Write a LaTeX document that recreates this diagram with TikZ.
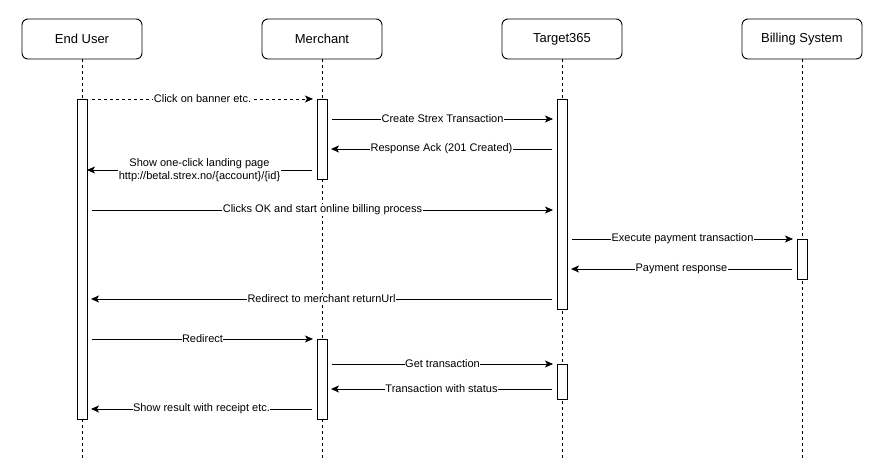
\documentclass[tikz,border=0pt]{standalone}
\usepackage{fontspec}
\setmainfont{Liberation Sans}
\usetikzlibrary{arrows.meta}
\begin{document}
\begin{tikzpicture}[x=1pt,y=-1pt,
  actor/.style={draw, rounded corners=6pt, minimum width=120pt, minimum height=40pt, line width=0.9pt, font=\fontsize{13}{15}\selectfont, inner sep=0pt},
  life/.style={dash pattern=on 3pt off 3pt, line width=0.8pt},
  act/.style={draw, fill=white, minimum width=10pt, inner sep=0pt, line width=0.9pt},
  msg/.style={-{Stealth[length=8pt,width=7pt,inset=2pt]}, line width=0.8pt},
  lbl/.style={fill=white, inner sep=0.5pt, font=\fontsize{11}{13}\selectfont, align=center}]
\useasboundingbox[fill=white] (0,0) rectangle (883,473);
% actors
\node[actor] (eu) at (82,39) {End User};
\node[actor] (me) at (322,39) {Merchant};
\node[actor] (tg) at (562,39) {Target365};
\node[actor] (bs) at (802,39) {Billing System};
% lifeline ends
\coordinate (euE) at (82,458);
\coordinate (meE) at (322,458);
\coordinate (tgE) at (562,458);
\coordinate (bsE) at (802,458);
\draw[life] (eu.south) -- (euE);
\draw[life] (me.south) -- (meE);
\draw[life] (tg.south) -- (tgE);
\draw[life] (bs.south) -- (bsE);
% activations
\node[act, minimum height=320pt] (euA) at (82,259) {};
\node[act, minimum height=80pt] (meA1) at (322,139) {};
\node[act, minimum height=80pt] (meA2) at (322,379) {};
\node[act, minimum height=210pt] (tgA1) at (562,204) {};
\node[act, minimum height=35pt] (tgA2) at (562,381.5) {};
\node[act, minimum height=40pt] (bsA) at (802,259) {};
% message end points
\coordinate (m1s) at (92,99);   \coordinate (m1e) at (313,99);
\coordinate (m2s) at (332,119); \coordinate (m2e) at (553,119);
\coordinate (m3s) at (552,149); \coordinate (m3e) at (331,149);
\coordinate (m4s) at (312,170); \coordinate (m4e) at (87,170);
\coordinate (m5s) at (92,210);  \coordinate (m5e) at (553,210);
\coordinate (m6s) at (572,239); \coordinate (m6e) at (793,239);
\coordinate (m7s) at (792,269); \coordinate (m7e) at (571,269);
\coordinate (m8s) at (552,299); \coordinate (m8e) at (91,299);
\coordinate (m9s) at (92,339);  \coordinate (m9e) at (313,339);
\coordinate (m10s) at (332,364); \coordinate (m10e) at (553,364);
\coordinate (m11s) at (552,389); \coordinate (m11e) at (331,389);
\coordinate (m12s) at (312,409); \coordinate (m12e) at (91,409);
% messages
\draw[msg, dash pattern=on 3pt off 3pt] (m1s) -- node[lbl] {Click on banner etc.} (m1e);
\draw[msg] (m2s) -- node[lbl] {Create Strex Transaction} (m2e);
\draw[msg] (m3s) -- node[lbl] {Response Ack (201 Created)} (m3e);
\draw[msg] (m4s) -- node[lbl] {Show one-click landing page\\http://betal.strex.no/\{account\}/\{id\}} (m4e);
\draw[msg] (m5s) -- node[lbl] {Clicks OK and start online billing process} (m5e);
\draw[msg] (m6s) -- node[lbl] {Execute payment transaction} (m6e);
\draw[msg] (m7s) -- node[lbl] {Payment response} (m7e);
\draw[msg] (m8s) -- node[lbl] {Redirect to merchant returnUrl} (m8e);
\draw[msg] (m9s) -- node[lbl] {Redirect} (m9e);
\draw[msg] (m10s) -- node[lbl] {Get transaction} (m10e);
\draw[msg] (m11s) -- node[lbl] {Transaction with status} (m11e);
\draw[msg] (m12s) -- node[lbl] {Show result with receipt etc.} (m12e);
\end{tikzpicture}
\end{document}
